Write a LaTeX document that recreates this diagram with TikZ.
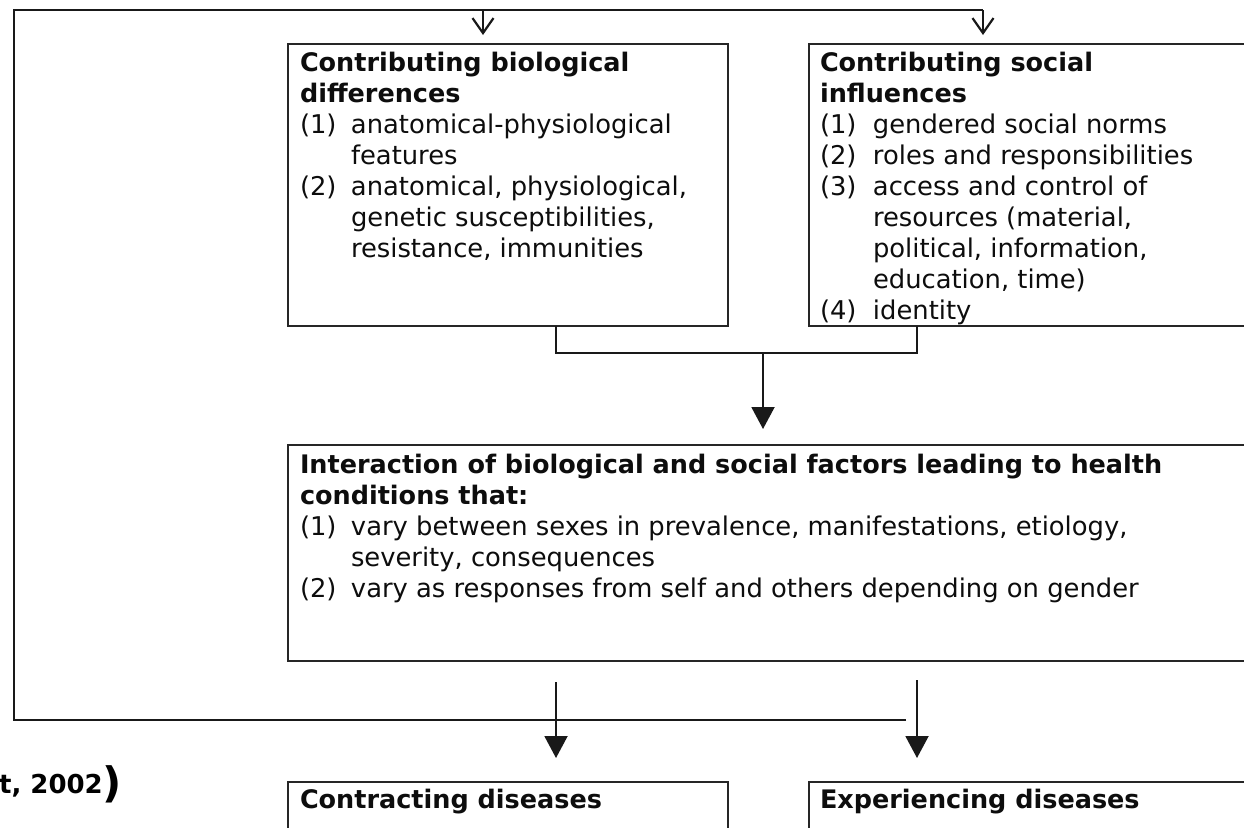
\documentclass[tikz,border=0pt]{standalone}
\usepackage{fontspec}
\setmainfont{DejaVu Sans}
\usetikzlibrary{arrows.meta}
\newcommand{\itm}[2]{\makebox[51pt][l]{#1}#2}
\newcommand{\cnt}[1]{\hspace*{51pt}#1}
\newcommand{\itmb}[2]{\makebox[53pt][l]{#1}#2}
\newcommand{\cntb}[1]{\hspace*{53pt}#1}
\newcommand{\ttl}[1]{{\fontsize{25.5}{31}\selectfont\bfseries #1}}
\begin{document}
\begin{tikzpicture}[x=1pt,y=-1pt,
  box/.style={draw=black!85, line width=1.6pt, anchor=north west, inner sep=0pt, outer sep=0pt},
  txt/.style={anchor=base west, inner sep=0pt, outer sep=0pt, text=black!95,
              font=\fontsize{25.8}{31}\selectfont},
  wire/.style={draw=black!90, line width=2pt},
  fillarrow/.style={wire, -{Triangle[length=22pt,width=23pt]}},
  openarrow/.style={wire, line width=2.2pt, -{Straight Barb[length=15pt,width=21pt]}},
  loopline/.style={draw=black!90, line width=2.8pt, line join=miter}]
\useasboundingbox (0,0) rectangle (1244,827);
\clip (0,0) rectangle (1244,827);
\fill[white] (0,0) rectangle (1244,827);

% boxes
\node[box, minimum width=440pt, minimum height=282pt] (bio) at (288,44) {};
\node[box, minimum width=460pt, minimum height=282pt] (soc) at (809,44) {};
\node[box, minimum width=980pt, minimum height=216pt] (inter) at (288,445) {};
\node[box, minimum width=440pt, minimum height=80pt] (contr) at (288,782) {};
\node[box, minimum width=460pt, minimum height=80pt] (exper) at (809,782) {};

% texts
\node[txt] (biot) at (300,71) {\parbox[t]{430pt}{%
\ttl{Contributing biological}\\
\ttl{differences}\\
\itm{(1)}{anatomical-physiological}\\
\cnt{features}\\
\itm{(2)}{anatomical, physiological,}\\
\cnt{genetic susceptibilities,}\\
\cnt{resistance, immunities}}};

\node[txt] (soct) at (820,71) {\parbox[t]{430pt}{%
\ttl{Contributing social}\\
\ttl{influences}\\
\itmb{(1)}{gendered social norms}\\
\itmb{(2)}{roles and responsibilities}\\
\itmb{(3)}{access and control of}\\
\cntb{resources (material,}\\
\cntb{political, information,}\\
\cntb{education, time)}\\
\itmb{(4)}{identity}}};

\node[txt] (intert) at (300,473) {\parbox[t]{940pt}{%
\ttl{Interaction of biological and social factors leading to health}\\
\ttl{conditions that:}\\
\itm{(1)}{vary between sexes in prevalence, manifestations, etiology,}\\
\cnt{severity, consequences}\\
\itm{(2)}{vary as responses from self and others depending on gender}}};

\node[txt] (contrt) at (300,808) {\ttl{Contracting diseases}};
\node[txt] (expert) at (820,808) {\ttl{Experiencing diseases}};

% citation fragment
\node[anchor=base east, inner sep=0pt, font=\bfseries\fontsize{26}{30}\selectfont] (cite) at (103,793) {t, 2002};
\node[anchor=base west, inner sep=0pt, font=\bfseries\fontsize{42}{46}\selectfont] (paren) at (102,797) {)};

% junction coordinates
\coordinate (b1) at (556,353);
\coordinate (b2) at (917,353);
\coordinate (jm) at (763,353);
\coordinate (oL) at (556,720);
\coordinate (oR) at (917,720);
\coordinate (fb) at (906,720);
\coordinate (c1) at (14,720);
\coordinate (c2) at (14,10);
\coordinate (c3) at (983,10);
\coordinate (c4) at (483,10);

% merge of the two upper boxes
\draw[wire] (bio.south -| b1) -- (b1) -- (b2) -- (soc.south -| b2);
\draw[fillarrow, shorten >=16pt] (jm) -- (inter.north -| jm);

% outcome arrows
\draw[fillarrow, shorten <=21pt, shorten >=24pt] (inter.south -| oL) -- (contr.north -| oL);
\draw[fillarrow, shorten <=19pt, shorten >=24pt] (inter.south -| oR) -- (exper.north -| oR);

% feedback loop
\draw[loopline] (fb) -- (c1) -- (c2) -- (c3);
\draw[openarrow, shorten >=9pt] (c3) -- (soc.north -| c3);
\draw[openarrow, shorten >=9pt] (c4) -- (bio.north -| c4);
\end{tikzpicture}
\end{document}
